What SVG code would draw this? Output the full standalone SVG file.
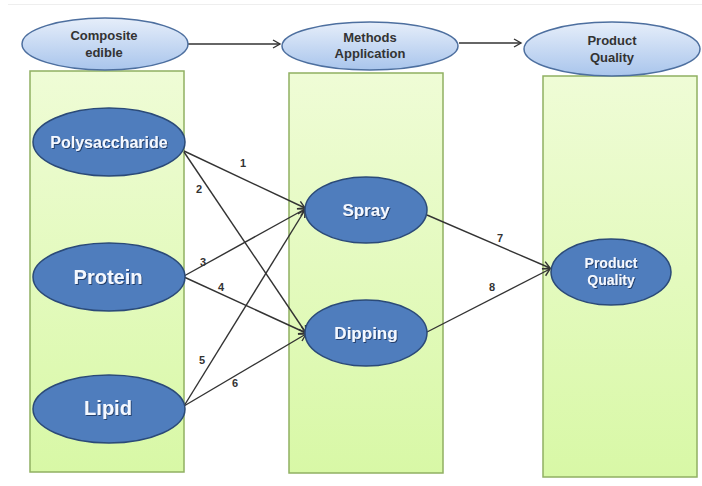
<svg xmlns="http://www.w3.org/2000/svg" width="702" height="486" viewBox="0 0 702 486">
<defs>
<linearGradient id="gTop" x1="0" y1="0" x2="0" y2="1">
<stop offset="0" stop-color="#e6eefa"/>
<stop offset="1" stop-color="#a9c5ec"/>
</linearGradient>
<linearGradient id="gCol" x1="0" y1="0" x2="0" y2="1">
<stop offset="0" stop-color="#effcd6"/>
<stop offset="1" stop-color="#d8f8a6"/>
</linearGradient>
<marker id="arr" markerWidth="12" markerHeight="12" refX="10" refY="6" orient="auto" markerUnits="userSpaceOnUse">
<polyline points="3,2 10,6 3,10" fill="none" stroke="#333" stroke-width="1.4"/>
</marker>
<filter id="ts" x="-10%" y="-20%" width="120%" height="140%">
<feDropShadow dx="1" dy="1" stdDeviation="0.6" flood-color="#1c3358" flood-opacity="0.8"/>
</filter>
</defs>
<style>
.col{fill:url(#gCol);stroke:#90b062;stroke-width:1.5}
.top{fill:url(#gTop);stroke:#4d6f9f;stroke-width:1.5}
.blue{fill:#4f7dbd;stroke:#2b4a78;stroke-width:1.5}
.tt{font-family:"Liberation Sans",Arial,sans-serif;font-weight:bold;font-size:13px;fill:#333;text-anchor:middle}
.wt{font-family:"Liberation Sans",Arial,sans-serif;font-weight:bold;fill:#f4f8ff;text-anchor:middle;filter:url(#ts)}
.num{font-family:"Liberation Sans",Arial,sans-serif;font-weight:bold;font-size:11px;fill:#333;text-anchor:middle}
.ln{stroke:#333;stroke-width:1.4;fill:none;marker-end:url(#arr)}
</style>
<rect width="702" height="486" fill="#ffffff"/>
<line x1="8" y1="4.5" x2="702" y2="4.5" stroke="#eeeeee" stroke-width="1"/>

<g id="col-composite"><rect class="col" x="30" y="71" width="154" height="401"/></g>
<g id="col-methods"><rect class="col" x="289" y="73" width="154" height="400"/></g>
<g id="col-quality"><rect class="col" x="543" y="76" width="154" height="401"/></g>

<g id="connectors">
<line class="ln" x1="188" y1="44" x2="280" y2="44"/>
<line class="ln" x1="459" y1="43" x2="521" y2="43"/>
<line class="ln" x1="184" y1="151" x2="305" y2="208"/>
<line class="ln" x1="184" y1="152" x2="306" y2="333"/>
<line class="ln" x1="184" y1="276" x2="305" y2="209"/>
<line class="ln" x1="184" y1="277" x2="306" y2="333"/>
<line class="ln" x1="184" y1="406" x2="305" y2="210"/>
<line class="ln" x1="184" y1="406" x2="306" y2="334"/>
<line class="ln" x1="427" y1="215" x2="550" y2="268"/>
<line class="ln" x1="427" y1="332" x2="550" y2="269"/>
<text class="num" x="243" y="167">1</text>
<text class="num" x="199" y="193">2</text>
<text class="num" x="203" y="266">3</text>
<text class="num" x="221" y="291">4</text>
<text class="num" x="202" y="364">5</text>
<text class="num" x="235" y="387">6</text>
<text class="num" x="500" y="242">7</text>
<text class="num" x="492" y="291">8</text>
</g>

<g id="hdr-composite">
<ellipse class="top" cx="105" cy="44" rx="83" ry="26"/>
<text class="tt" x="104" y="40">Composite</text>
<text class="tt" x="104" y="57">edible</text>
</g>
<g id="hdr-methods">
<ellipse class="top" cx="370" cy="46" rx="88" ry="24"/>
<text class="tt" x="370" y="42">Methods</text>
<text class="tt" x="370" y="58">Application</text>
</g>
<g id="hdr-quality">
<ellipse class="top" cx="612" cy="49" rx="88" ry="27"/>
<text class="tt" x="612" y="45">Product</text>
<text class="tt" x="612" y="62">Quality</text>
</g>

<g id="polysaccharide">
<ellipse class="blue" cx="109" cy="142" rx="76" ry="34"/>
<text class="wt" x="109" y="148" font-size="16">Polysaccharide</text>
</g>
<g id="protein">
<ellipse class="blue" cx="109" cy="277" rx="76" ry="34"/>
<text class="wt" x="108" y="284" font-size="20">Protein</text>
</g>
<g id="lipid">
<ellipse class="blue" cx="109" cy="409" rx="76" ry="34"/>
<text class="wt" x="108" y="415" font-size="20">Lipid</text>
</g>
<g id="spray">
<ellipse class="blue" cx="366" cy="210" rx="61" ry="33"/>
<text class="wt" x="366" y="216" font-size="17">Spray</text>
</g>
<g id="dipping">
<ellipse class="blue" cx="366" cy="333" rx="61" ry="33"/>
<text class="wt" x="366" y="339" font-size="17">Dipping</text>
</g>
<g id="product-quality">
<ellipse class="blue" cx="611" cy="272" rx="60" ry="33"/>
<text class="wt" x="611" y="268" font-size="14">Product</text>
<text class="wt" x="611" y="285" font-size="14">Quality</text>
</g>
</svg>
